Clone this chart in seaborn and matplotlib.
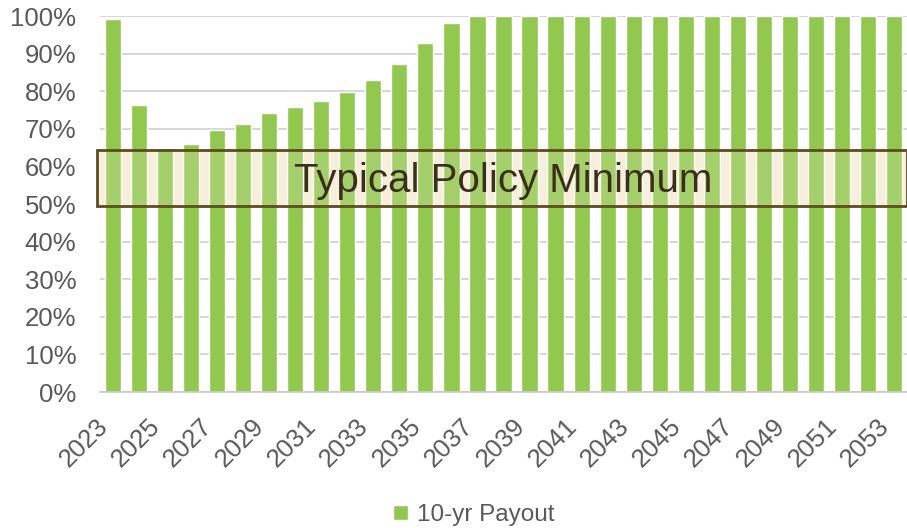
import numpy as np
import pandas as pd
import matplotlib
matplotlib.use("Agg")
import matplotlib.pyplot as plt
import seaborn as sns

# datos
years = list(range(2023, 2054))
payout = [99.3, 76.3, 64.9, 65.9, 69.7, 71.4, 74.1, 75.8, 77.5, 79.9, 82.9, 87.2, 92.9, 98.2] + [100.0] * 17
band_low = 49.6
band_high = 64.4
band_label = "Typical Policy Minimum"
series_name = "10-yr Payout"

df = pd.DataFrame({"year": [str(y) for y in years], "payout": payout})

sns.set_theme(style="white")
plt.rcParams['font.family'] = ['Liberation Sans', 'DejaVu Sans']

fig = plt.figure(figsize=(9.07, 5.28), dpi=100)
ax = fig.add_axes([100 / 907, 1 - 392 / 528, 807 / 907, (392 - 16) / 528])

sns.barplot(data=df, x="year", y="payout", color="#92c84f", saturation=1,
            width=0.62, ax=ax, label=series_name, zorder=2)

# franja de minimo tipico: fondo crema detras, velo y borde encima
ax.axhspan(band_low, band_high, xmin=-0.004, xmax=1.0, facecolor="#f6efdc",
           edgecolor="none", zorder=1, clip_on=False)
ax.axhspan(band_low, band_high, xmin=-0.004, xmax=1.0, facecolor="#f6efdc", alpha=0.2,
           edgecolor="none", zorder=3, clip_on=False)
ax.axhspan(band_low, band_high, xmin=-0.004, xmax=1.0, facecolor="none",
           edgecolor="#5e4b1e", linewidth=2, zorder=3.5, clip_on=False)
ax.text(0.5, (band_low + band_high) / 2 - 1.0, band_label, transform=ax.get_yaxis_transform(),
        ha="center", va="center", fontsize=29, color="#3b2f1c", zorder=4)

ax.set_ylim(0, 100)
ax.set_xlim(-0.5, len(years) - 0.5)
ax.set_yticks(range(0, 101, 10))
ax.set_yticklabels([f"{v}%" for v in range(0, 101, 10)], fontsize=18.5, color="#595959")
ax.yaxis.grid(True, color="#d0d0d0", linewidth=1.2, zorder=0)
ax.set_axisbelow(True)

# etiquetas cada dos años, rotadas 45 grados
ax.set_xticks(range(0, len(years), 2))
ax.set_xticklabels([str(y) for y in years[::2]], rotation=45, ha="right",
                   va="top", fontsize=18.5, color="#595959")
ax.set_xticks(np.arange(-0.5, len(years), 1), minor=True)
ax.tick_params(axis="x", which="major", length=0, pad=16)
ax.tick_params(axis="x", which="minor", length=8, color="#c8c8c8", width=1.2)
ax.tick_params(axis="y", length=0, pad=17)

ax.set_xlabel("")
ax.set_ylabel("")
for s in ["top", "right", "left"]:
    ax.spines[s].set_visible(False)
ax.spines["bottom"].set_color("#c8c8c8")
ax.spines["bottom"].set_linewidth(1.2)

handles, labels = ax.get_legend_handles_labels()
if ax.legend_:
    ax.legend_.remove()
fig.legend(handles, labels, loc="center", bbox_to_anchor=(474 / 907, 1 - 515 / 528), frameon=False,
           fontsize=17.5, handlelength=0.6, handleheight=0.6, handletextpad=0.4,
           labelcolor="#595959")

fig.savefig("out.png", dpi=100)
